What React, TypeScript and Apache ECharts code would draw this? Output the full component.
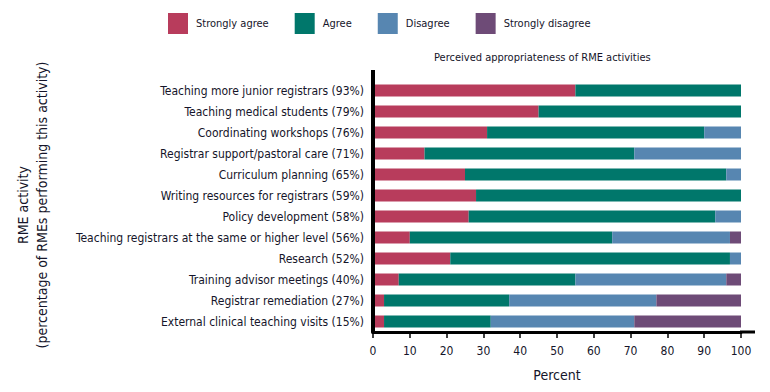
import React, { useEffect, useRef } from "react";
import * as echarts from "echarts";

const categories = [
  "Teaching more junior registrars (93%)",
  "Teaching medical students (79%)",
  "Coordinating workshops (76%)",
  "Registrar support/pastoral care (71%)",
  "Curriculum planning (65%)",
  "Writing resources for registrars (59%)",
  "Policy development (58%)",
  "Teaching registrars at the same or higher level (56%)",
  "Research (52%)",
  "Training advisor meetings (40%)",
  "Registrar remediation (27%)",
  "External clinical teaching visits (15%)",
];
const stronglyAgree = [55, 45, 31, 14, 25, 28, 26, 10, 21, 7, 3, 3];
const agree = [45, 55, 59, 57, 71, 72, 67, 55, 76, 48, 34, 29];
const disagree = [0, 0, 10, 29, 4, 0, 7, 32, 3, 41, 40, 39];
const stronglyDisagree = [0, 0, 0, 0, 0, 0, 0, 3, 0, 4, 23, 29];
const seriesNames = ["Strongly agree", "Agree", "Disagree", "Strongly disagree"];
const colors = ["#b83c5c", "#00776b", "#5786b1", "#6e4b77"];

const FONT = "'Liberation Sans Narrow', 'DejaVu Sans Condensed', 'Arial Narrow', sans-serif";
const TEXT = "#15152a";

export default function App() {
  const ref = useRef<HTMLDivElement>(null);
  useEffect(() => {
    if (!ref.current) return;
    const chart = echarts.init(ref.current, undefined, { renderer: "svg" });
    const values = [stronglyAgree, agree, disagree, stronglyDisagree];
    chart.setOption({
      animation: false,
      textStyle: { fontFamily: FONT, color: TEXT },
      title: {
        text: "Perceived appropriateness of RME activities",
        left: 434,
        top: 52,
        padding: 0,
        textStyle: { fontFamily: FONT, fontSize: 11, fontWeight: "normal", color: TEXT },
      },
      legend: {
        left: 168,
        top: 13,
        padding: 0,
        itemWidth: 20,
        itemHeight: 21,
        itemGap: 26,
        icon: "rect",
        data: seriesNames,
        textStyle: { fontFamily: FONT, fontSize: 11, color: TEXT, padding: [0, 0, 0, 3] },
      },
      grid: { left: 373, right: 29, top: 80, bottom: 60 },
      xAxis: {
        type: "value",
        min: 0,
        max: 100,
        interval: 10,
        splitLine: { show: false },
        axisLine: { show: true, lineStyle: { color: "#000", width: 3 } },
        axisTick: { show: true, length: 6, lineStyle: { color: "#000", width: 1.5 } },
        axisLabel: { fontFamily: FONT, fontSize: 12, color: TEXT, margin: 13 },
        name: "Percent",
        nameLocation: "middle",
        nameGap: 36,
        nameTextStyle: { fontFamily: FONT, fontSize: 14, color: TEXT },
      },
      yAxis: {
        type: "category",
        inverse: true,
        data: categories,
        z: 10,
        axisLine: { show: true, lineStyle: { color: "#000", width: 4 } },
        axisTick: { show: false },
        axisLabel: { fontFamily: FONT, fontSize: 12, color: TEXT, margin: 9 },
      },
      graphic: [
        {
          type: "line",
          z: 100,
          shape: { x1: 373, y1: 70, x2: 373, y2: 82 },
          style: { stroke: "#000", lineWidth: 4 },
        },
        {
          type: "line",
          z: 100,
          shape: { x1: 740, y1: 332, x2: 755, y2: 332 },
          style: { stroke: "#000", lineWidth: 3 },
        },
        {
          type: "text",
          x: 32,
          y: 205,
          rotation: Math.PI / 2,
          style: {
            text: "RME activity\n(percentage of RMEs performing this activity)",
            fontFamily: FONT,
            fontSize: 14,
            fill: TEXT,
            align: "center",
            verticalAlign: "middle",
            lineHeight: 19,
          },
        },
      ],
      series: seriesNames.map((name, i) => ({
        name,
        type: "bar",
        stack: "total",
        barWidth: 12,
        itemStyle: { color: colors[i] },
        data: values[i],
      })),
    });
    return () => chart.dispose();
  }, []);
  return <div ref={ref} style={{ width: 770, height: 392, margin: -8 }} />;
}
